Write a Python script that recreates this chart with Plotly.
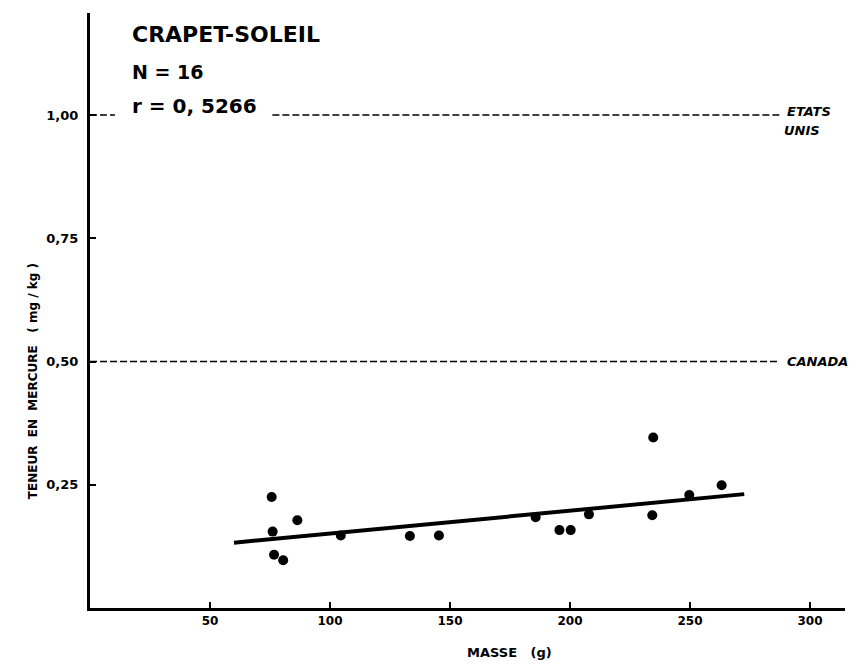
import plotly.graph_objects as go

# Data
masse = [75.7, 86.4, 76.1, 76.7, 80.5, 104.5, 133.3, 145.4,
         185.7, 195.6, 200.3, 207.9, 234.7, 234.3, 249.7, 263.2]
mercure = [0.225, 0.178, 0.155, 0.108, 0.097, 0.147, 0.146, 0.147,
           0.184, 0.158, 0.158, 0.190, 0.346, 0.188, 0.229, 0.249]
fit_x = [60, 272.6]
fit_y = [0.1325, 0.231]
limite_us = 1.00
limite_canada = 0.50
x_ticks = [50, 100, 150, 200, 250, 300]
x_ticklabels = ["50", "100", "150", "200", "250", "300"]
y_ticks = [0.25, 0.50, 0.75, 1.00]
y_ticklabels = ["0,25", "0,50", "0,75", "1,00"]

FONT = "DejaVu Sans"

fig = go.Figure()

# Reference lines (dashed)
dash = "7px,3px"
fig.add_trace(go.Scatter(x=[0, 10.4], y=[limite_us, limite_us], mode="lines",
                         line=dict(color="black", width=1.6, dash=dash),
                         showlegend=False, hoverinfo="skip"))
fig.add_trace(go.Scatter(x=[76, 288], y=[limite_us, limite_us], mode="lines",
                         line=dict(color="black", width=1.6, dash=dash),
                         showlegend=False, hoverinfo="skip"))
fig.add_trace(go.Scatter(x=[0, 287.5], y=[limite_canada, limite_canada], mode="lines",
                         line=dict(color="black", width=1.6, dash=dash),
                         showlegend=False, hoverinfo="skip"))

# Regression line
fig.add_trace(go.Scatter(x=fit_x, y=fit_y, mode="lines",
                         line=dict(color="black", width=4),
                         showlegend=False, hoverinfo="skip"))

# Points
fig.add_trace(go.Scatter(x=masse, y=mercure, mode="markers",
                         marker=dict(color="black", size=10),
                         showlegend=False))

annotations = [
    dict(y=35, text="<b>CRAPET-SOLEIL</b>", size=22),
    dict(y=72, text="<b>N = 16</b>", size=19),
    dict(y=106, text="<b>r = 0, 5266</b>", size=20),
]
for a in annotations:
    fig.add_annotation(xref="paper", yref="paper", x=(130 - 90) / 755,
                       y=1 - (a["y"] - 13) / 595,
                       text=a["text"], showarrow=False, xanchor="left", yanchor="middle",
                       font=dict(family=FONT, size=a["size"], color="black"))

fig.add_annotation(xref="x", yref="y", x=289.5, y=limite_us, text="<b><i>ETATS</i></b>",
                   showarrow=False, xanchor="left", yanchor="bottom",
                   font=dict(family=FONT, size=13, color="black"), yshift=-6)
fig.add_annotation(xref="x", yref="y", x=288.5, y=limite_us, text="<b><i>UNIS</i></b>",
                   showarrow=False, xanchor="left", yanchor="top",
                   font=dict(family=FONT, size=13, color="black"), yshift=-6)
fig.add_annotation(xref="x", yref="y", x=289.5, y=limite_canada, text="<b><i>CANADA</i></b>",
                   showarrow=False, xanchor="left", yanchor="middle",
                   font=dict(family=FONT, size=13, color="black"))

# Axis titles
fig.add_annotation(xref="paper", yref="y", x=-(90 - 33) / 755, y=0.46,
                   text="<b>TENEUR  EN  MERCURE   ( mg / kg )</b>", textangle=-90,
                   showarrow=False, xanchor="center", yanchor="middle",
                   font=dict(family=FONT, size=12, color="black"))
fig.add_annotation(xref="x", yref="paper", x=175, y=-(652 - 608) / 595,
                   text="<b>MASSE   (g)</b>", showarrow=False,
                   xanchor="center", yanchor="middle",
                   font=dict(family=FONT, size=13, color="black"))

fig.update_layout(
    width=853, height=664,
    margin=dict(l=90, r=8, t=13, b=56),
    paper_bgcolor="white", plot_bgcolor="white",
    xaxis=dict(range=[0, 314.6], showline=True, linecolor="black", linewidth=3,
               ticks="inside", ticklen=6, tickwidth=2, tickcolor="black",
               tickvals=x_ticks, ticktext=["<b>%s</b>" % t for t in x_ticklabels],
               showgrid=False, zeroline=False,
               tickfont=dict(family=FONT, size=12, color="black"),
               ticklabelstandoff=0),
    yaxis=dict(range=[0, 1.207], showline=True, linecolor="black", linewidth=3,
               ticks="inside", ticklen=6, tickwidth=2, tickcolor="black",
               tickvals=y_ticks, ticktext=["<b>%s</b>" % t for t in y_ticklabels],
               showgrid=False, zeroline=False,
               tickfont=dict(family=FONT, size=13, color="black"),
               ticklabelstandoff=6),
)

fig.write_html("out.html")
